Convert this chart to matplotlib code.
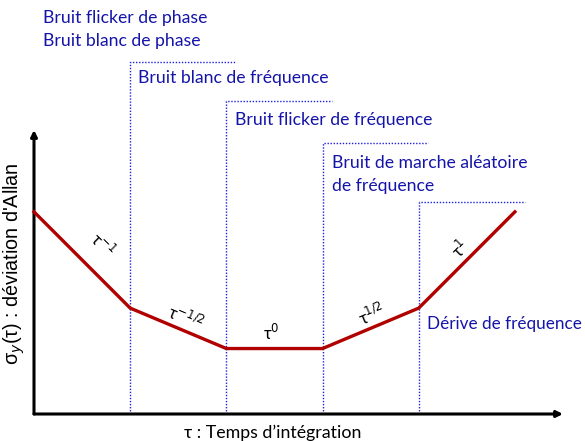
import matplotlib
matplotlib.use("Agg")
import matplotlib.pyplot as plt

# Allan deviation sketch: breakpoints (decades of tau) and sigma levels (log units)
tau_pts = [0, 1, 2, 3, 4, 5]
sigma_pts = [2.1, 1.1, 0.68, 0.68, 1.1, 2.1]

# boundaries between noise regions and the height of their dotted brackets
bound_x = [1, 2, 3, 4]
bound_top = [3.66, 3.25, 2.82, 2.2]
bracket_len = 1.1

region_labels = ["Bruit flicker de phase", "Bruit blanc de phase",
                 "Bruit blanc de fréquence", "Bruit flicker de fréquence",
                 "Bruit de marche aléatoire", "de fréquence",
                 "Dérive de fréquence"]
region_xy = [(0.09, 4.11), (0.09, 3.87), (1.08, 3.49), (2.09, 3.05),
             (3.10, 2.61), (3.10, 2.37), (4.09, 0.93)]

slope_labels = ["τ$^{-1}$", "τ$^{-1/2}$", "τ$^{0}$", "τ$^{1/2}$", "τ$^{1}$"]
slope_xy = [(0.71, 1.76), (1.57, 1.0), (2.47, 0.84), (3.51, 1.03), (4.43, 1.72)]
slope_rot = [-45, -23, 0, 23, 45]

W, H = 585, 441
fig = plt.figure(figsize=(W / 100, H / 100), dpi=100)
ax = fig.add_axes([34 / W, (H - 414) / H, (563 - 34) / W, (414 - 130) / H])
ax.set_xlim(0, 5.5)
ax.set_ylim(0, 2.95)
ax.axis("off")

txt_font = ["Lato", "DejaVu Sans"]
blue = "#1414aa"

# axes with arrows
ax.annotate("", xy=(1.0, 0), xytext=(0, 0), xycoords="axes fraction",
            arrowprops=dict(arrowstyle="-|>", lw=2.2, color="black",
                            mutation_scale=9, shrinkA=0, shrinkB=0))
ax.annotate("", xy=(0, 1.0), xytext=(0, 0), xycoords="axes fraction",
            arrowprops=dict(arrowstyle="-|>", lw=2.2, color="black",
                            mutation_scale=9, shrinkA=0, shrinkB=0))

# dotted region brackets
for bx, top in zip(bound_x, bound_top):
    ax.plot([bx, bx, bx + bracket_len], [0, top, top], ls=(0, (1, 1.2)),
            lw=1.0, color="#2020e0", clip_on=False)

ax.plot(tau_pts, sigma_pts, color="#b00000", lw=2.4, solid_joinstyle="miter",
        clip_on=False, zorder=3)

for i, (lab, (x, y)) in enumerate(zip(region_labels, region_xy)):
    size = 12.3 if i == len(region_labels) - 1 else 12.7
    ax.text(x, y, lab, color=blue, fontsize=size, family=txt_font,
            ha="left", va="center", clip_on=False)

for lab, (x, y), r in zip(slope_labels, slope_xy, slope_rot):
    ax.text(x, y, lab, fontsize=12, family=txt_font, rotation=r,
            rotation_mode="anchor", ha="center", va="center", clip_on=False)

fig.text(14 / W, 1 - 264 / H, "σ$_y$(τ) : déviation d'Allan", rotation=90,
         ha="center", va="center", fontsize=14.2,
         family=["Liberation Sans", "DejaVu Sans"])
fig.text(273 / W, 1 - 433 / H, "τ : Temps d’intégration", ha="center",
         va="center", fontsize=12.8, family=txt_font)

fig.savefig("out.png", dpi=100)
